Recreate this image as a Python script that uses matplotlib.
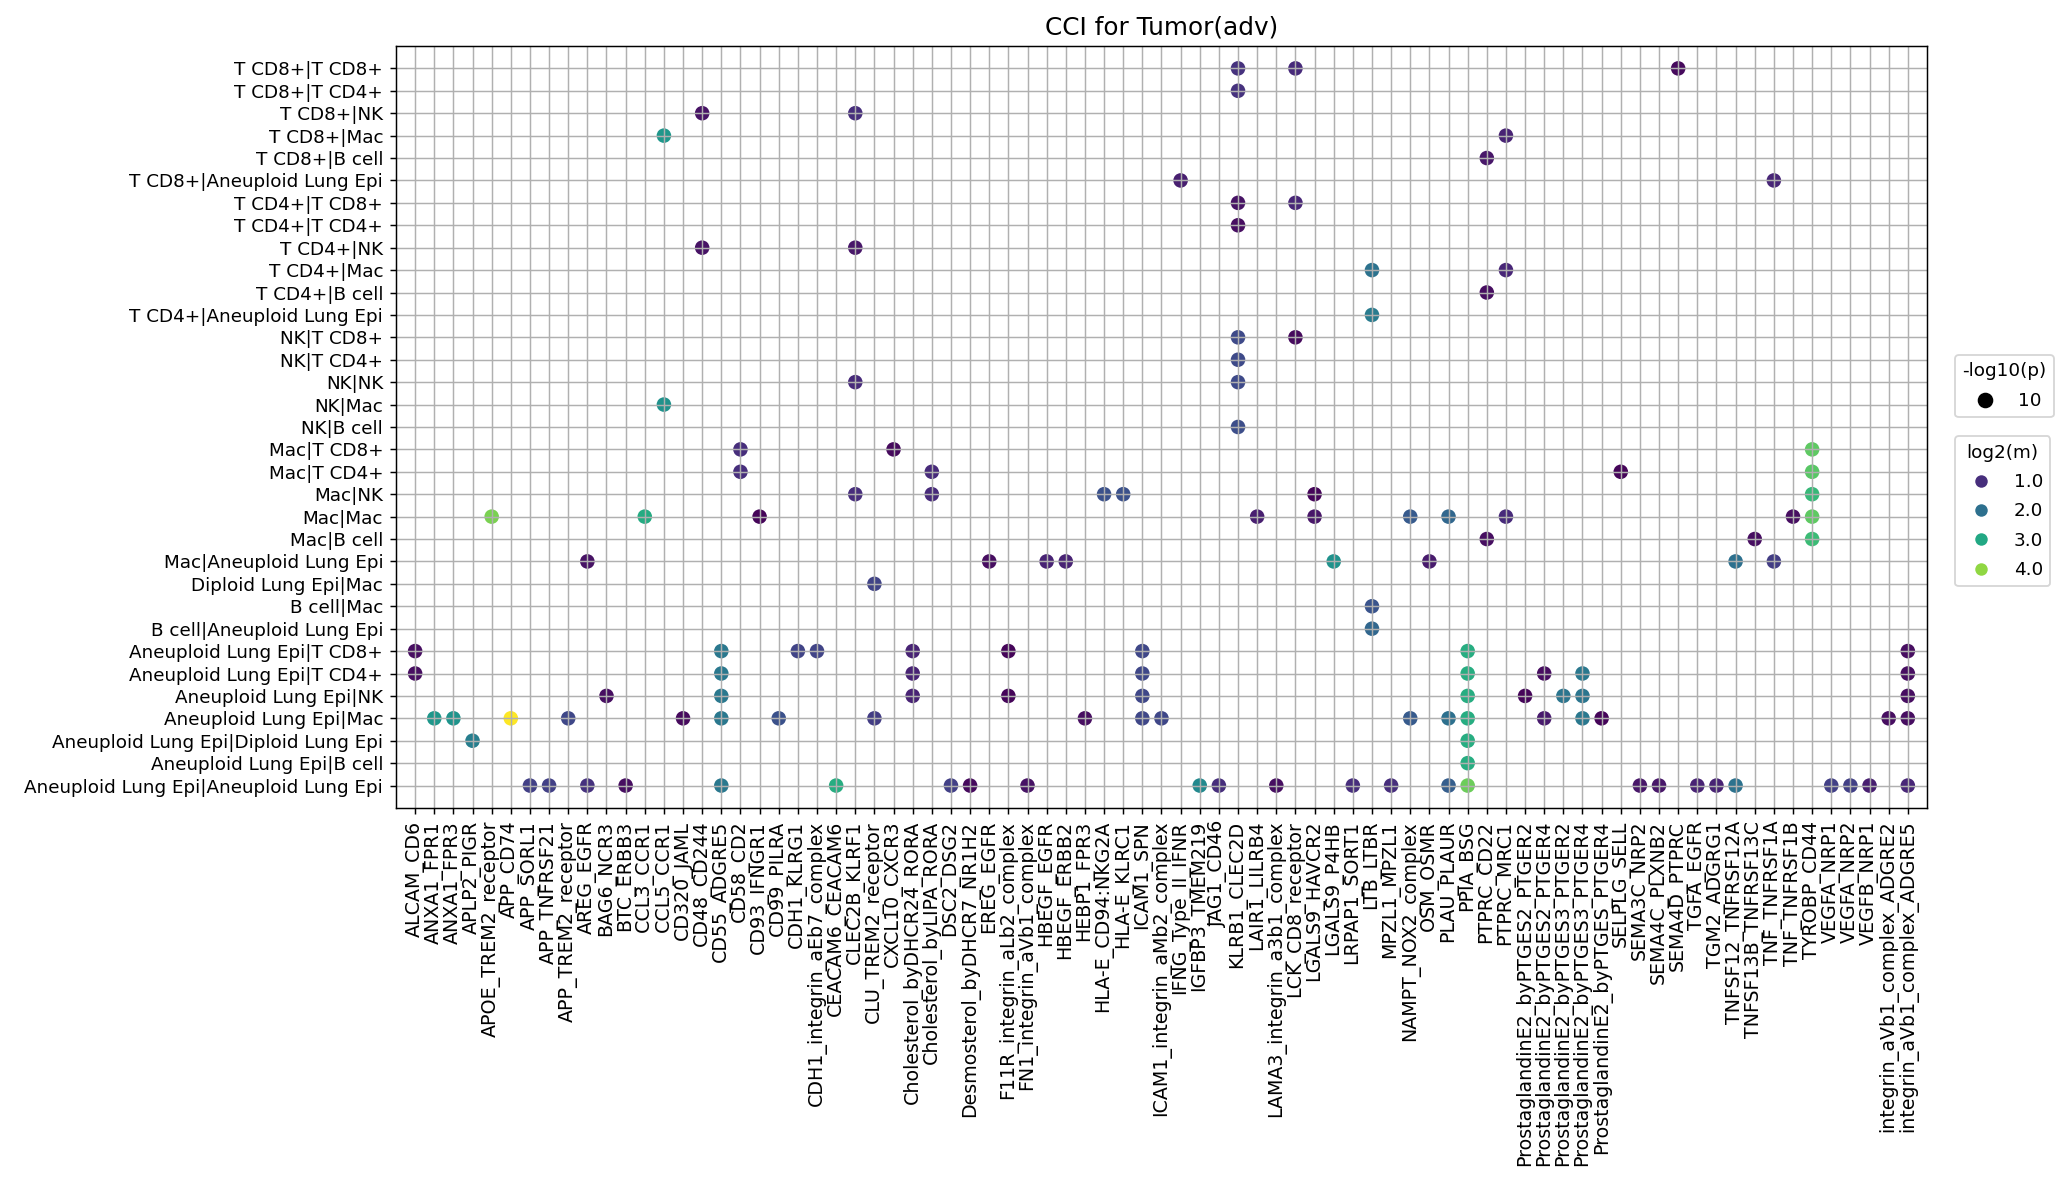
import matplotlib
matplotlib.use("Agg")
import matplotlib.pyplot as plt
from matplotlib.colors import Normalize
from matplotlib.lines import Line2D

interactions = [
    "ALCAM_CD6", "ANXA1_FPR1", "ANXA1_FPR3", "APLP2_PIGR", "APOE_TREM2_receptor",
    "APP_CD74", "APP_SORL1", "APP_TNFRSF21", "APP_TREM2_receptor", "AREG_EGFR",
    "BAG6_NCR3", "BTC_ERBB3", "CCL3_CCR1", "CCL5_CCR1", "CD320_JAML",
    "CD48_CD244", "CD55_ADGRE5", "CD58_CD2", "CD93_IFNGR1", "CD99_PILRA",
    "CDH1_KLRG1", "CDH1_integrin_aEb7_complex", "CEACAM6_CEACAM6", "CLEC2B_KLRF1",
    "CLU_TREM2_receptor", "CXCL10_CXCR3", "Cholesterol_byDHCR24_RORA",
    "Cholesterol_byLIPA_RORA", "DSC2_DSG2", "Desmosterol_byDHCR7_NR1H2", "EREG_EGFR",
    "F11R_integrin_aLb2_complex", "FN1_integrin_aVb1_complex", "HBEGF_EGFR",
    "HBEGF_ERBB2", "HEBP1_FPR3", "HLA-E_CD94:NKG2A", "HLA-E_KLRC1", "ICAM1_SPN",
    "ICAM1_integrin_aMb2_complex", "IFNG_Type_II_IFNR", "IGFBP3_TMEM219", "JAG1_CD46",
    "KLRB1_CLEC2D", "LAIR1_LILRB4", "LAMA3_integrin_a3b1_complex", "LCK_CD8_receptor",
    "LGALS9_HAVCR2", "LGALS9_P4HB", "LRPAP1_SORT1", "LTB_LTBR", "MPZL1_MPZL1",
    "NAMPT_NOX2_complex", "OSM_OSMR", "PLAU_PLAUR", "PPIA_BSG", "PTPRC_CD22",
    "PTPRC_MRC1", "ProstaglandinE2_byPTGES2_PTGER2", "ProstaglandinE2_byPTGES2_PTGER4",
    "ProstaglandinE2_byPTGES3_PTGER2", "ProstaglandinE2_byPTGES3_PTGER4",
    "ProstaglandinE2_byPTGES_PTGER4", "SELPLG_SELL", "SEMA3C_NRP2", "SEMA4C_PLXNB2",
    "SEMA4D_PTPRC", "TGFA_EGFR", "TGM2_ADGRG1", "TNFSF12_TNFRSF12A",
    "TNFSF13B_TNFRSF13C", "TNF_TNFRSF1A", "TNF_TNFRSF1B", "TYROBP_CD44", "VEGFA_NRP1",
    "VEGFA_NRP2", "VEGFB_NRP1", "integrin_aVb1_complex_ADGRE2",
    "integrin_aVb1_complex_ADGRE5",
]

pairs = [
    "T CD8+|T CD8+", "T CD8+|T CD4+", "T CD8+|NK", "T CD8+|Mac", "T CD8+|B cell",
    "T CD8+|Aneuploid Lung Epi", "T CD4+|T CD8+", "T CD4+|T CD4+", "T CD4+|NK",
    "T CD4+|Mac", "T CD4+|B cell", "T CD4+|Aneuploid Lung Epi", "NK|T CD8+",
    "NK|T CD4+", "NK|NK", "NK|Mac", "NK|B cell", "Mac|T CD8+", "Mac|T CD4+", "Mac|NK",
    "Mac|Mac", "Mac|B cell", "Mac|Aneuploid Lung Epi", "Diploid Lung Epi|Mac",
    "B cell|Mac", "B cell|Aneuploid Lung Epi", "Aneuploid Lung Epi|T CD8+",
    "Aneuploid Lung Epi|T CD4+", "Aneuploid Lung Epi|NK", "Aneuploid Lung Epi|Mac",
    "Aneuploid Lung Epi|Diploid Lung Epi", "Aneuploid Lung Epi|B cell",
    "Aneuploid Lung Epi|Aneuploid Lung Epi",
]

# each dot: row index (pair), column index (interaction), log2(mean), -log10(p)
dot_pair = [
    0, 0, 0, 1, 2, 2, 3, 3, 4, 5, 5, 6, 6, 7, 8, 8, 9, 9, 10, 11,
    12, 12, 13, 14, 14, 15, 16,
    17, 17, 17, 18, 18, 18, 18, 19, 19, 19, 19, 19, 19,
    20, 20, 20, 20, 20, 20, 20, 20, 20, 20, 21, 21, 21,
    22, 22, 22, 22, 22, 22, 22, 22, 23, 24, 25,
    26, 26, 26, 26, 26, 26, 26, 26, 26,
    27, 27, 27, 27, 27, 27, 27, 27,
    28, 28, 28, 28, 28, 28, 28, 28, 28, 28,
    29, 29, 29, 29, 29, 29, 29, 29, 29, 29, 29, 29, 29, 29, 29, 29, 29, 29, 29,
    30, 30, 31,
    32, 32, 32, 32, 32, 32, 32, 32, 32, 32, 32, 32, 32, 32, 32, 32, 32, 32, 32,
    32, 32, 32, 32, 32, 32,
]
dot_interaction = [
    43, 46, 66, 43, 15, 23, 13, 57, 56, 40, 71, 43, 46, 43, 15, 23, 50, 57, 56, 50,
    43, 46, 43, 23, 43, 13, 43,
    17, 25, 73, 17, 27, 63, 73, 23, 27, 36, 37, 47, 73,
    4, 12, 18, 44, 47, 52, 54, 57, 72, 73, 56, 70, 73,
    9, 30, 33, 34, 48, 53, 69, 71, 24, 50, 50,
    0, 16, 20, 21, 26, 31, 38, 55, 78,
    0, 16, 26, 38, 55, 59, 61, 78,
    10, 16, 26, 31, 38, 55, 58, 60, 61, 78,
    1, 2, 5, 8, 14, 16, 19, 24, 35, 38, 39, 52, 54, 55, 59, 61, 62, 77, 78,
    3, 55, 55,
    6, 7, 9, 11, 16, 22, 28, 29, 32, 41, 42, 45, 49, 51, 54, 55, 64, 65, 67,
    68, 69, 74, 75, 76, 78,
]
dot_log2m = [
    1.05, 0.95, 0.55, 1.05, 0.65, 1.0, 2.7, 0.85, 0.7, 0.8, 0.9, 0.65, 0.9, 0.6,
    0.65, 0.7, 2.05, 0.9, 0.6, 2.2,
    1.4, 0.55, 1.4, 0.95, 1.4, 2.6, 1.45,
    1.0, 0.55, 3.65, 1.0, 0.95, 0.5, 3.6, 1.0, 0.95, 1.5, 1.5, 0.5, 3.3,
    3.85, 3.05, 0.5, 0.8, 0.7, 1.65, 1.85, 0.95, 0.6, 3.65, 0.6, 0.6, 3.35,
    0.65, 0.6, 0.85, 0.85, 2.6, 0.75, 2.0, 1.2, 1.3, 1.55, 1.85,
    0.6, 2.15, 1.3, 1.3, 0.85, 0.5, 1.35, 3.1, 0.6,
    0.6, 2.15, 0.85, 1.35, 3.1, 0.6, 2.15, 0.6,
    0.6, 2.15, 0.85, 0.5, 1.35, 3.1, 0.5, 2.1, 2.1, 0.6,
    2.7, 2.65, 4.7, 1.35, 0.55, 2.15, 1.5, 1.2, 0.6, 1.35, 1.35, 1.65, 2.0, 3.1,
    0.75, 2.15, 0.5, 0.6, 0.6,
    2.25, 3.1, 3.1,
    1.25, 1.25, 1.05, 0.6, 2.15, 3.1, 1.25, 0.55, 0.65, 2.45, 1.0, 0.6, 1.0, 1.0,
    1.7, 3.75, 0.7, 0.7, 0.85, 0.85, 2.05, 1.25, 1.25, 0.8, 0.9,
]
dot_neglog10p = [10] * len(dot_log2m)

size_legend_labels = ["10"]
hue_legend_values = [1.0, 2.0, 3.0, 4.0]

DPI = 132
fig = plt.figure(figsize=(2070 / DPI, 1179 / DPI), dpi=DPI)
ax = fig.add_axes([0.1913, 0.3147, 0.7396, 0.6463])

cmap = plt.get_cmap("viridis")
norm = Normalize(vmin=0.45, vmax=4.7)

ax.scatter(dot_interaction, dot_pair, c=dot_log2m, cmap=cmap, norm=norm,
           s=[6.3 * v for v in dot_neglog10p], linewidths=0, zorder=1)

ax.set_xticks(range(len(interactions)))
ax.set_xticklabels(interactions, rotation=90, fontsize=10.4)
ax.set_yticks(range(len(pairs)))
ax.set_yticklabels(pairs, fontsize=10)
ax.set_xlim(-1, len(interactions))
ax.set_ylim(len(pairs), -1)
ax.grid(True, color="#b0b0b0", linewidth=0.8)
ax.set_axisbelow("line")
ax.set_title("CCI for Tumor(adv)", fontsize=13.5)

size_handles = [Line2D([], [], marker="o", linestyle="", color="black",
                       markersize=7.5) for _ in size_legend_labels]
leg1 = fig.legend(size_handles, size_legend_labels, title="-log10(p)",
                  loc="upper left", bbox_to_anchor=(0.9444, 0.699),
                  fontsize=10, title_fontsize=10, borderaxespad=0,
                  labelspacing=0.65)
hue_handles = [Line2D([], [], marker="o", linestyle="", markeredgewidth=0,
                      color=cmap(norm(v)), markersize=6.8) for v in hue_legend_values]
leg2 = fig.legend(hue_handles, [f"{v:.1f}" for v in hue_legend_values],
                  title="log2(m)", loc="upper left", bbox_to_anchor=(0.9444, 0.630),
                  fontsize=10, title_fontsize=10, borderaxespad=0,
                  labelspacing=0.62)

fig.savefig("out.png", dpi=DPI)
